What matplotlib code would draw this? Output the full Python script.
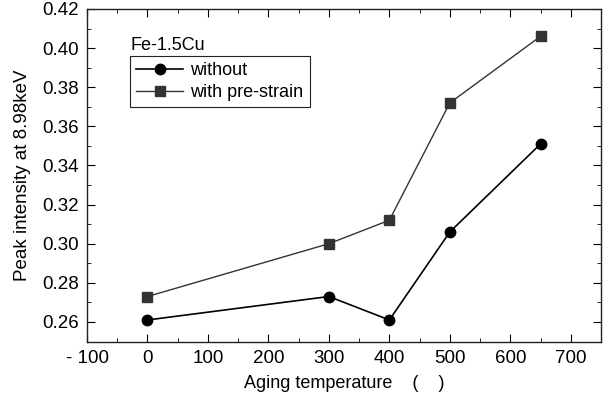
import matplotlib
matplotlib.use('Agg')
import matplotlib.pyplot as plt
from matplotlib.ticker import MultipleLocator, FuncFormatter

plt.rcParams['font.family'] = ['Liberation Sans', 'DejaVu Sans']

# dados
temps = [0, 300, 400, 500, 650]
without = [0.261, 0.273, 0.261, 0.306, 0.351]
prestrain = [0.273, 0.300, 0.312, 0.372, 0.406]

W, H = 610, 403
fig = plt.figure(figsize=(W / 100, H / 100), dpi=100)
ax = fig.add_axes([87 / W, 1 - 341.5 / H, (601 - 87) / W, (341.5 - 9) / H])

ax.plot(temps, without, color='black', lw=1.2, marker='o', markersize=7.5,
        label='without', zorder=3)
ax.plot(temps, prestrain, color='#333333', lw=1.0, marker='s', markersize=6.5,
        label='with pre-strain', zorder=3)

ax.set_xlim(-100, 750)
ax.set_ylim(0.25, 0.42)
ax.xaxis.set_major_locator(MultipleLocator(100))
ax.xaxis.set_minor_locator(MultipleLocator(50))
ax.yaxis.set_major_locator(MultipleLocator(0.02))
ax.yaxis.set_minor_locator(MultipleLocator(0.01))
ax.xaxis.set_major_formatter(FuncFormatter(
    lambda v, p: f"- {abs(int(v))}" if v < 0 else f"{int(v)}"))
ax.yaxis.set_major_formatter(FuncFormatter(lambda v, p: f"{v:.2f}"))
ax.tick_params(which='both', direction='in', top=True, right=True,
               labelsize=13.5, pad=6)
ax.tick_params(which='major', length=6)
ax.tick_params(which='minor', length=3)
for s in ax.spines.values():
    s.set_linewidth(1.0)
    s.set_color('#222222')

ax.set_xlabel('Aging temperature    (    )', fontsize=13, labelpad=6)
ax.set_ylabel('Peak intensity at 8.98keV', fontsize=13.5, labelpad=8)

# titulo da legenda
fig.text(130 / W, 1 - 50 / H, 'Fe-1.5Cu', fontsize=13, va='baseline')
leg = ax.legend(loc='upper left',
                bbox_to_anchor=(130 / W, 1 - 56 / H), bbox_transform=fig.transFigure,
                fontsize=13, frameon=True, fancybox=False, framealpha=1,
                edgecolor='#222222', handlelength=2.6, handletextpad=0.4,
                borderpad=0.35, labelspacing=0.25, borderaxespad=0)
leg.get_frame().set_linewidth(0.8)

fig.savefig('out.png', dpi=100, facecolor='white')
